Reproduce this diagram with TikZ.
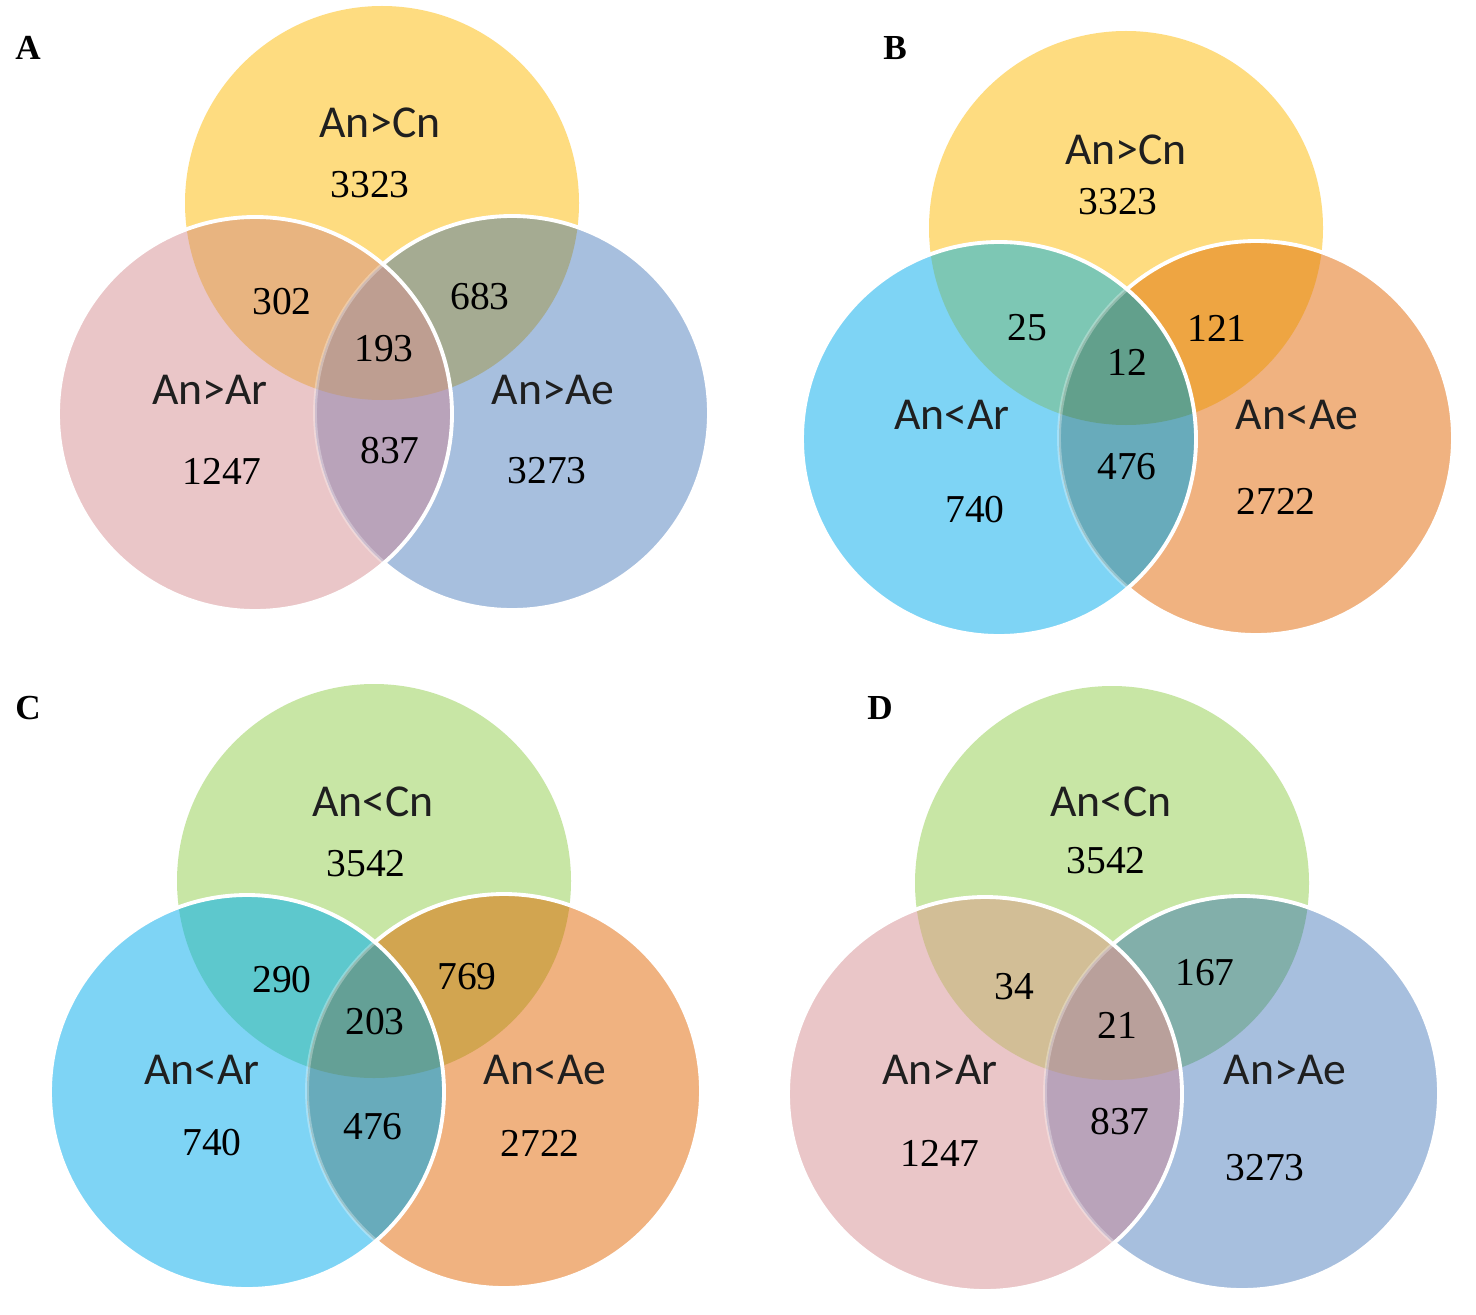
\documentclass[tikz,border=0pt]{standalone}
\usepackage{fontspec}
\setmainfont{Liberation Serif}
\newfontfamily\calfont{Carlito}

% set colours
\definecolor{yel}{RGB}{254,220,128}
\definecolor{grn}{RGB}{200,230,165}
\definecolor{pnk}{RGB}{234,198,200}
\definecolor{blu}{RGB}{167,191,222}
\definecolor{cyn}{RGB}{126,212,245}
\definecolor{org}{RGB}{240,178,128}
% overlaps
\definecolor{yelpnk}{RGB}{232,180,128}
\definecolor{yelblu}{RGB}{165,171,146}
\definecolor{pnkblu}{RGB}{185,163,186}
\definecolor{yelpnkblu}{RGB}{190,158,145}
\definecolor{yelcyn}{RGB}{125,199,180}
\definecolor{yelorg}{RGB}{238,165,66}
\definecolor{cynorg}{RGB}{104,171,187}
\definecolor{yelcynorg}{RGB}{98,160,140}
\definecolor{grncyn}{RGB}{93,200,205}
\definecolor{grnorg}{RGB}{210,165,80}
\definecolor{grncynorg}{RGB}{100,160,150}
\definecolor{grnpnk}{RGB}{210,190,150}
\definecolor{grnblu}{RGB}{130,175,170}
\definecolor{grnpnkblu}{RGB}{185,160,155}

\begin{document}
\begin{tikzpicture}[x=0.02cm, y=-0.02cm]
\tikzstyle{setname}=[font=\calfont\fontsize{26}{30}\selectfont, text=black!88]
\tikzstyle{count}=[font=\fontsize{22.5}{27}\selectfont]
\tikzstyle{panel}=[font=\bfseries\fontsize{20}{24}\selectfont]
\tikzstyle{rim}=[draw=white, line width=2.2pt]
\tikzstyle{faintrim}=[draw=white, draw opacity=0.3, line width=2.2pt]

\useasboundingbox[fill=white] (0,0) rectangle (1476,1314);

% A
\coordinate (aT) at (382,203);
\coordinate (aL) at (255,414);
\coordinate (aR) at (512,413);
\fill[yel] (aT) circle (197);
\fill[pnk] (aL) circle (197);
\fill[blu] (aR) circle (197);
\begin{scope}
  \clip (aT) circle (197);
  \fill[yelpnk] (aL) circle (197);
  \fill[yelblu] (aR) circle (197);
\end{scope}
\begin{scope}
  \clip (aL) circle (197);
  \fill[pnkblu] (aR) circle (197);
  \clip (aT) circle (197);
  \fill[yelpnkblu] (aR) circle (197);
\end{scope}
\begin{scope}[even odd rule]
  \clip (aL) circle (197) (0,0) rectangle (1476,1314);
  \draw[rim] (aR) circle (197);
\end{scope}
\begin{scope}
  \clip (aL) circle (197);
  \draw[faintrim] (aR) circle (197);
\end{scope}
\draw[rim] (aL) circle (197);

\node[panel](labA) at (28,48){A};
\node[setname](aCn) at (380,123){An>Cn};
\node[setname](aAr) at (210,390){An>Ar};
\node[setname](aAe) at (553,390){An>Ae};
\node[count](aN1) at (370,185){3323};
\node[count](aN2) at (282,302){302};
\node[count](aN3) at (480,297){683};
\node[count](aN4) at (384,349){193};
\node[count](aN5) at (222,471){1247};
\node[count](aN6) at (390,451){837};
\node[count](aN7) at (547,471){3273};

% B
\coordinate (bT) at (1126,228);
\coordinate (bL) at (999,439);
\coordinate (bR) at (1256,438);
\fill[yel] (bT) circle (197);
\fill[cyn] (bL) circle (197);
\fill[org] (bR) circle (197);
\begin{scope}
  \clip (bT) circle (197);
  \fill[yelcyn] (bL) circle (197);
  \fill[yelorg] (bR) circle (197);
\end{scope}
\begin{scope}
  \clip (bL) circle (197);
  \fill[cynorg] (bR) circle (197);
  \clip (bT) circle (197);
  \fill[yelcynorg] (bR) circle (197);
\end{scope}
\begin{scope}[even odd rule]
  \clip (bL) circle (197) (0,0) rectangle (1476,1314);
  \draw[rim] (bR) circle (197);
\end{scope}
\begin{scope}
  \clip (bL) circle (197);
  \draw[faintrim] (bR) circle (197);
\end{scope}
\draw[rim] (bL) circle (197);

\node[panel](labB) at (895,48){B};
\node[setname](bCn) at (1126,150){An>Cn};
\node[setname](bAr) at (952,415){An<Ar};
\node[setname](bAe) at (1297,415){An<Ae};
\node[count](bN1) at (1118,202){3323};
\node[count](bN2) at (1027,328){25};
\node[count](bN3) at (1217,328){121};
\node[count](bN4) at (1127,362){12};
\node[count](bN5) at (975,510){740};
\node[count](bN6) at (1127,467){476};
\node[count](bN7) at (1276,501){2722};

% C
\coordinate (cT) at (374,881);
\coordinate (cL) at (247,1092);
\coordinate (cR) at (504,1091);
\fill[grn] (cT) circle (197);
\fill[cyn] (cL) circle (197);
\fill[org] (cR) circle (197);
\begin{scope}
  \clip (cT) circle (197);
  \fill[grncyn] (cL) circle (197);
  \fill[grnorg] (cR) circle (197);
\end{scope}
\begin{scope}
  \clip (cL) circle (197);
  \fill[cynorg] (cR) circle (197);
  \clip (cT) circle (197);
  \fill[grncynorg] (cR) circle (197);
\end{scope}
\begin{scope}[even odd rule]
  \clip (cL) circle (197) (0,0) rectangle (1476,1314);
  \draw[rim] (cR) circle (197);
\end{scope}
\begin{scope}
  \clip (cL) circle (197);
  \draw[faintrim] (cR) circle (197);
\end{scope}
\draw[rim] (cL) circle (197);

\node[panel](labC) at (28,708){C};
\node[setname](cCn) at (373,802){An<Cn};
\node[setname](cAr) at (202,1070){An<Ar};
\node[setname](cAe) at (545,1070){An<Ae};
\node[count](cN1) at (366,864){3542};
\node[count](cN2) at (282,980){290};
\node[count](cN3) at (467,977){769};
\node[count](cN4) at (375,1022){203};
\node[count](cN5) at (212,1143){740};
\node[count](cN6) at (373,1127){476};
\node[count](cN7) at (540,1143){2722};

% D
\coordinate (dT) at (1112,883);
\coordinate (dL) at (985,1094);
\coordinate (dR) at (1242,1093);
\fill[grn] (dT) circle (197);
\fill[pnk] (dL) circle (197);
\fill[blu] (dR) circle (197);
\begin{scope}
  \clip (dT) circle (197);
  \fill[grnpnk] (dL) circle (197);
  \fill[grnblu] (dR) circle (197);
\end{scope}
\begin{scope}
  \clip (dL) circle (197);
  \fill[pnkblu] (dR) circle (197);
  \clip (dT) circle (197);
  \fill[grnpnkblu] (dR) circle (197);
\end{scope}
\begin{scope}[even odd rule]
  \clip (dL) circle (197) (0,0) rectangle (1476,1314);
  \draw[rim] (dR) circle (197);
\end{scope}
\begin{scope}
  \clip (dL) circle (197);
  \draw[faintrim] (dR) circle (197);
\end{scope}
\draw[rim] (dL) circle (197);

\node[panel](labD) at (880,708){D};
\node[setname](dCn) at (1111,802){An<Cn};
\node[setname](dAr) at (940,1070){An>Ar};
\node[setname](dAe) at (1285,1070){An>Ae};
\node[count](dN1) at (1106,861){3542};
\node[count](dN2) at (1014,987){34};
\node[count](dN3) at (1205,973){167};
\node[count](dN4) at (1117,1025){21};
\node[count](dN5) at (940,1153){1247};
\node[count](dN6) at (1120,1122){837};
\node[count](dN7) at (1265,1168){3273};

\end{tikzpicture}
\end{document}
